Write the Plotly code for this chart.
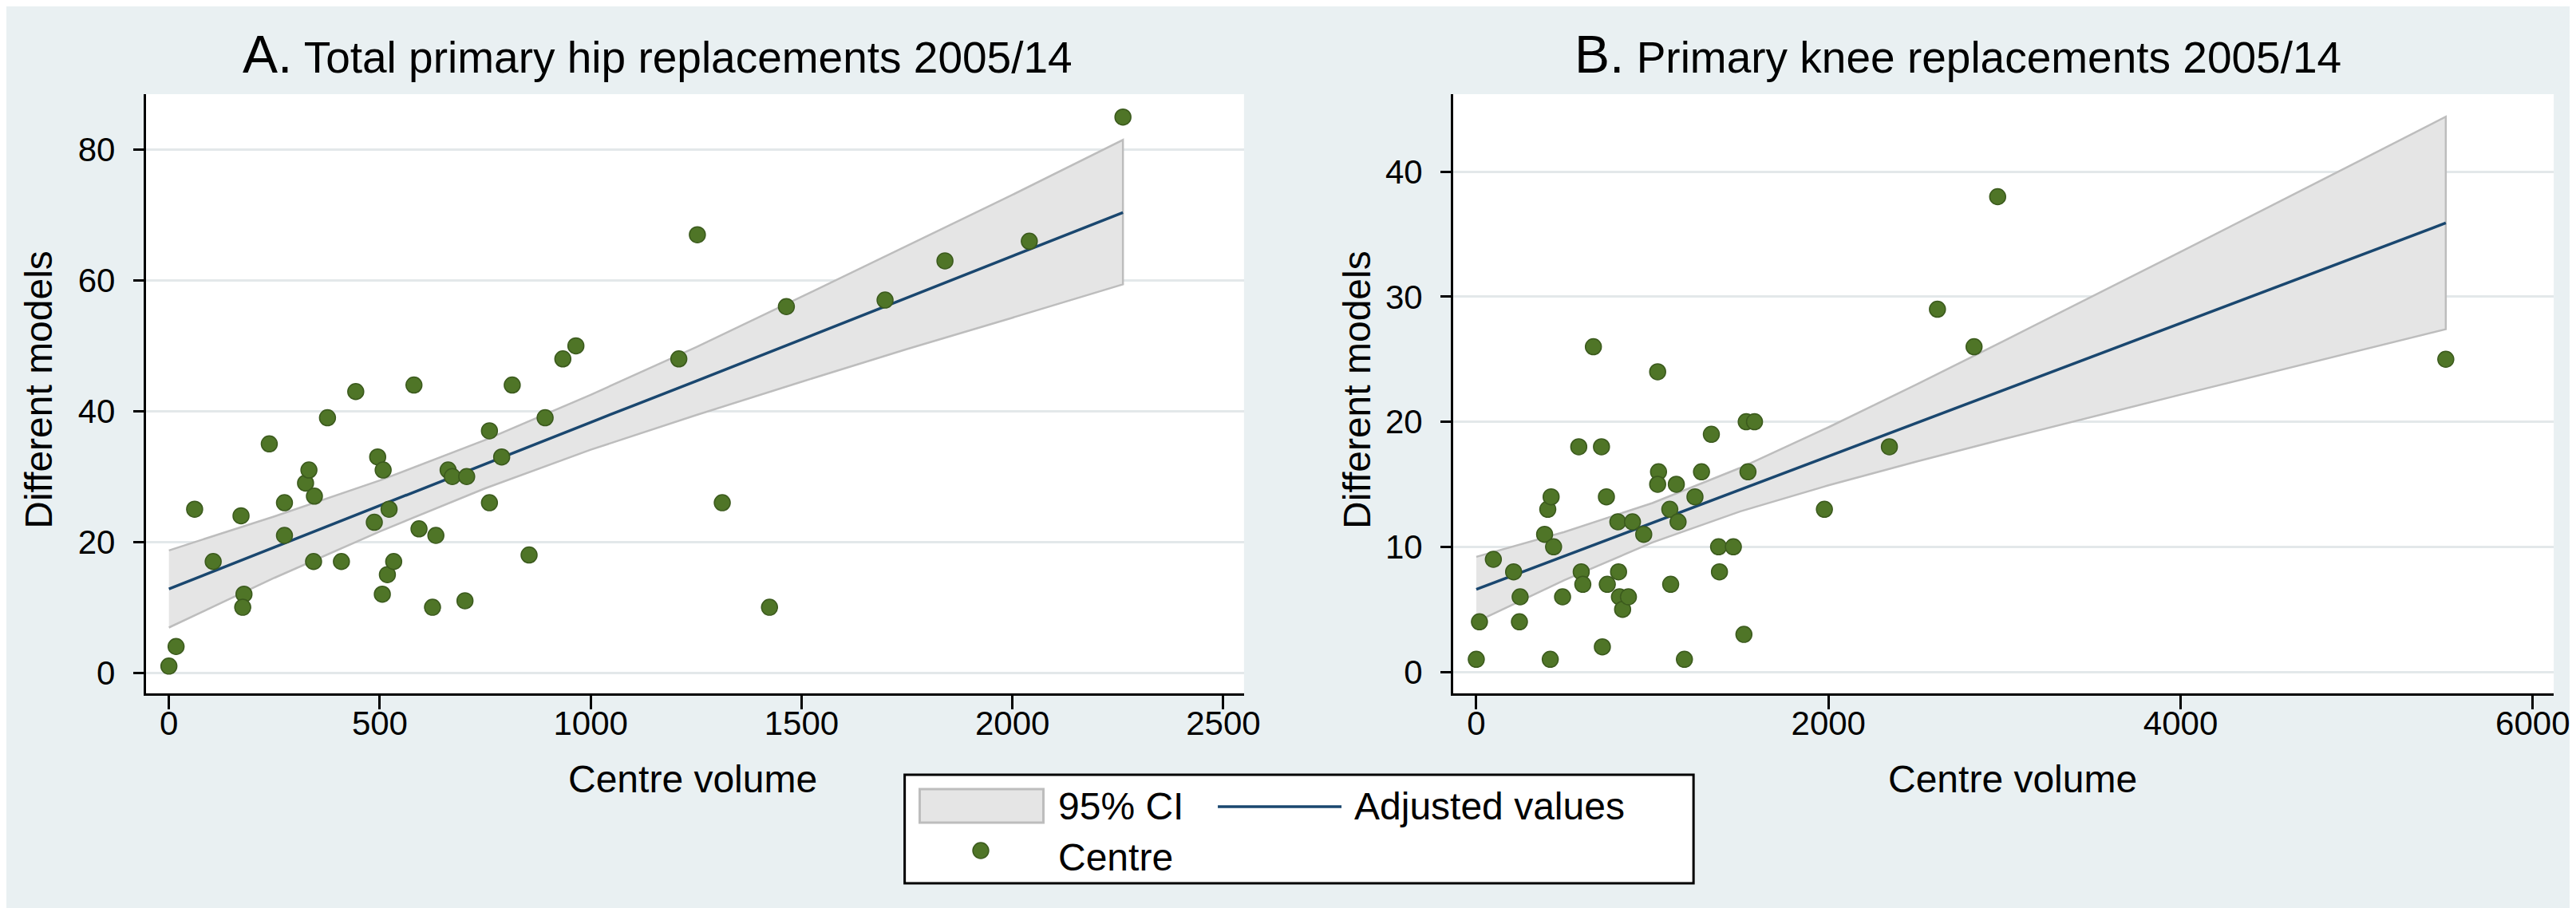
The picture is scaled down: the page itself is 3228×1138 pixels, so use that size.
import plotly.graph_objects as go

W, H = 3228, 1138

# ---------------- data ----------------
hip_volume = [0, 17, 61, 105, 171, 178, 175, 238, 274, 274, 324, 332, 345, 343, 376, 409, 443, 495, 487, 508,
              522, 506, 518, 533, 581, 593, 633, 625, 662, 672, 706, 702, 760, 760, 789, 814, 854, 892, 934, 965,
              1209, 1253, 1312, 1424, 1464, 1698, 1840, 2040, 2262]
hip_models = [1, 4, 25, 17, 24, 12, 10, 35, 26, 21, 29, 31, 27, 17, 39, 17, 43, 33, 23, 31,
              25, 12, 15, 17, 44, 22, 21, 10, 31, 30, 30, 11, 37, 26, 33, 44, 18, 39, 48, 50,
              48, 67, 26, 10, 56, 57, 63, 66, 85]

hip_fit_x = [0, 250, 500, 750, 1000, 1250, 1500, 1750, 2000, 2262]
hip_fit_y = [12.8, 19.2, 25.5, 31.9, 38.3, 44.6, 51.0, 57.4, 63.7, 70.4]
hip_ci_lo = [6.9, 14.5, 21.6, 28.2, 34.1, 39.4, 44.5, 49.5, 54.3, 59.4]
hip_ci_hi = [18.7, 23.9, 29.4, 35.6, 42.5, 49.8, 57.5, 65.3, 73.1, 81.5]

knee_volume = [0, 18, 97, 212, 249, 245, 388, 406, 425, 439, 420, 490, 582, 596, 605, 665, 711, 739, 744, 716,
               804, 808, 813, 831, 864, 887, 951, 1030, 1035, 1030, 1099, 1104, 1136, 1146, 1182, 1242, 1279,
               1335, 1376, 1381, 1460, 1520, 1533, 1543, 1580, 1977, 2346, 2619, 2827, 2961, 5506]
knee_models = [1, 4, 9, 8, 6, 4, 11, 13, 14, 10, 1, 6, 18, 8, 7, 26, 18, 14, 7, 2,
               12, 8, 6, 5, 6, 12, 11, 24, 16, 15, 13, 7, 15, 12, 1, 14, 16,
               19, 10, 8, 10, 3, 20, 16, 20, 13, 18, 29, 26, 38, 25]

knee_fit_x = [0, 500, 1000, 1500, 2000, 2500, 3000, 4000, 5000, 5506]
knee_fit_y = [6.6, 9.26, 11.92, 14.58, 17.24, 19.9, 22.56, 27.88, 33.2, 35.9]
knee_ci_lo = [4.0, 7.33, 10.35, 12.84, 14.92, 16.82, 18.63, 22.17, 25.65, 27.4]
knee_ci_hi = [9.2, 11.19, 13.5, 16.32, 19.56, 22.98, 26.49, 33.59, 40.75, 44.4]

hip_xticks = [0, 500, 1000, 1500, 2000, 2500]
hip_yticks = [0, 20, 40, 60, 80]
knee_xticks = [0, 2000, 4000, 6000]
knee_yticks = [0, 10, 20, 30, 40]

title_a = ("A.", "Total primary hip replacements 2005/14")
title_b = ("B.", "Primary knee replacements 2005/14")
x_title = "Centre volume"
y_title = "Different models"
legend_labels = ["95% CI", "Adjusted values", "Centre"]

# ---------------- styles ----------------
FONT = "Liberation Sans, Arial, Helvetica, sans-serif"
BG = "#e9f0f2"
BAND_FILL = "#e5e5e5"
BAND_LINE = "#bdbdbd"
NAVY = "#1a476f"
GREEN = "#4f7527"
GREEN_DK = "#3b5a1d"
GRID = "#e3e8ea"


def px_x(p):
    return p / W


def px_y(p):
    return 1 - p / H


fig = go.Figure()


def add_panel(xs, ys, fx, fy, lo, hi, xa, ya):
    fig.add_trace(go.Scatter(
        x=list(fx) + list(fx)[::-1], y=list(hi) + list(lo)[::-1],
        fill="toself", fillcolor=BAND_FILL, mode="lines",
        line=dict(color=BAND_LINE, width=2.5), xaxis=xa, yaxis=ya,
        hoverinfo="skip", showlegend=False))
    fig.add_trace(go.Scatter(
        x=fx, y=fy, mode="lines", line=dict(color=NAVY, width=3.5),
        xaxis=xa, yaxis=ya, showlegend=False))
    fig.add_trace(go.Scatter(
        x=xs, y=ys, mode="markers",
        marker=dict(symbol="circle", size=20, color=GREEN, line=dict(color=GREEN_DK, width=1.5)),
        xaxis=xa, yaxis=ya, showlegend=False))


add_panel(hip_volume, hip_models, hip_fit_x, hip_fit_y, hip_ci_lo, hip_ci_hi, "x", "y")
add_panel(knee_volume, knee_models, knee_fit_x, knee_fit_y, knee_ci_lo, knee_ci_hi, "x2", "y2")

tickfont = dict(family=FONT, size=42, color="black")
common_x = dict(showline=True, linewidth=3, linecolor="black", ticks="outside", ticklen=17,
                tickwidth=3, tickcolor="black", showgrid=False, zeroline=False,
                tickfont=tickfont, ticklabelstandoff=-18)
common_y = dict(showline=True, linewidth=3, linecolor="black", ticks="outside", ticklen=13,
                tickwidth=3, tickcolor="black", showgrid=True, gridcolor=GRID, gridwidth=2.5,
                zeroline=False, tickfont=tickfont, ticklabelstandoff=14)

fig.update_layout(
    width=W, height=H,
    margin=dict(l=0, r=0, t=0, b=0),
    paper_bgcolor=BG, plot_bgcolor="white",
    showlegend=False,
    xaxis=dict(domain=[px_x(176), px_x(1561)], range=[-54.5, 2549], tickvals=hip_xticks,
               anchor="y", **common_x),
    yaxis=dict(domain=[px_y(861), px_y(110)], range=[-3.17, 88.5], tickvals=hip_yticks,
               anchor="x", **common_y),
    xaxis2=dict(domain=[px_x(1825), px_x(3213)], range=[-130.6, 6119], tickvals=knee_xticks,
                anchor="y2", **common_x),
    yaxis2=dict(domain=[px_y(861), px_y(110)], range=[-1.72, 46.2], tickvals=knee_yticks,
                anchor="x2", **common_y),
)

ann = []


def title_text(t):
    return '<span style="font-size:66px">%s</span> %s' % t


ann.append(dict(text=title_text(title_a), x=px_x(821), y=px_y(99), xref="paper", yref="paper",
                xanchor="center", yanchor="bottom", showarrow=False,
                font=dict(family=FONT, size=55, color="black")))
ann.append(dict(text=title_text(title_b), x=px_x(2462), y=px_y(99), xref="paper", yref="paper",
                xanchor="center", yanchor="bottom", showarrow=False,
                font=dict(family=FONT, size=55, color="black")))

axfont = dict(family=FONT, size=48, color="black")
for cx in (866, 2530):
    ann.append(dict(text=x_title, x=px_x(cx), y=px_y(968), xref="paper", yref="paper",
                    xanchor="center", yanchor="middle", showarrow=False, font=axfont))
for cx in (40, 1703):
    ann.append(dict(text=y_title, x=px_x(cx), y=px_y(480), xref="paper", yref="paper",
                    xanchor="center", yanchor="middle", showarrow=False, textangle=-90, font=axfont))

# legend (drawn manually)
legfont = dict(family=FONT, size=48, color="black")
ann.append(dict(text=legend_labels[0], x=px_x(1325), y=px_y(1002), xref="paper", yref="paper",
                xanchor="left", yanchor="middle", showarrow=False, font=legfont))
ann.append(dict(text=legend_labels[1], x=px_x(1698), y=px_y(1002), xref="paper", yref="paper",
                xanchor="left", yanchor="middle", showarrow=False, font=legfont))
ann.append(dict(text=legend_labels[2], x=px_x(1325), y=px_y(1066), xref="paper", yref="paper",
                xanchor="left", yanchor="middle", showarrow=False, font=legfont))
fig.update_layout(annotations=ann)

shapes = [
    dict(type="rect", xref="paper", yref="paper", x0=px_x(1133), x1=px_x(2128), y0=px_y(1099), y1=px_y(963),
         fillcolor="white", line=dict(color="black", width=3), layer="below"),
    dict(type="rect", xref="paper", yref="paper", x0=px_x(1152), x1=px_x(1308), y0=px_y(1023), y1=px_y(981),
         fillcolor=BAND_FILL, line=dict(color=BAND_LINE, width=3)),
    dict(type="line", xref="paper", yref="paper", x0=px_x(1528), x1=px_x(1684), y0=px_y(1003), y1=px_y(1003),
         line=dict(color=NAVY, width=3.5)),
    dict(type="circle", xref="paper", yref="paper", x0=px_x(1219), x1=px_x(1239), y0=px_y(1068), y1=px_y(1048),
         fillcolor=GREEN, line=dict(color=GREEN_DK, width=1.5)),
]
fig.update_layout(shapes=shapes)

fig.write_html("out.html")
